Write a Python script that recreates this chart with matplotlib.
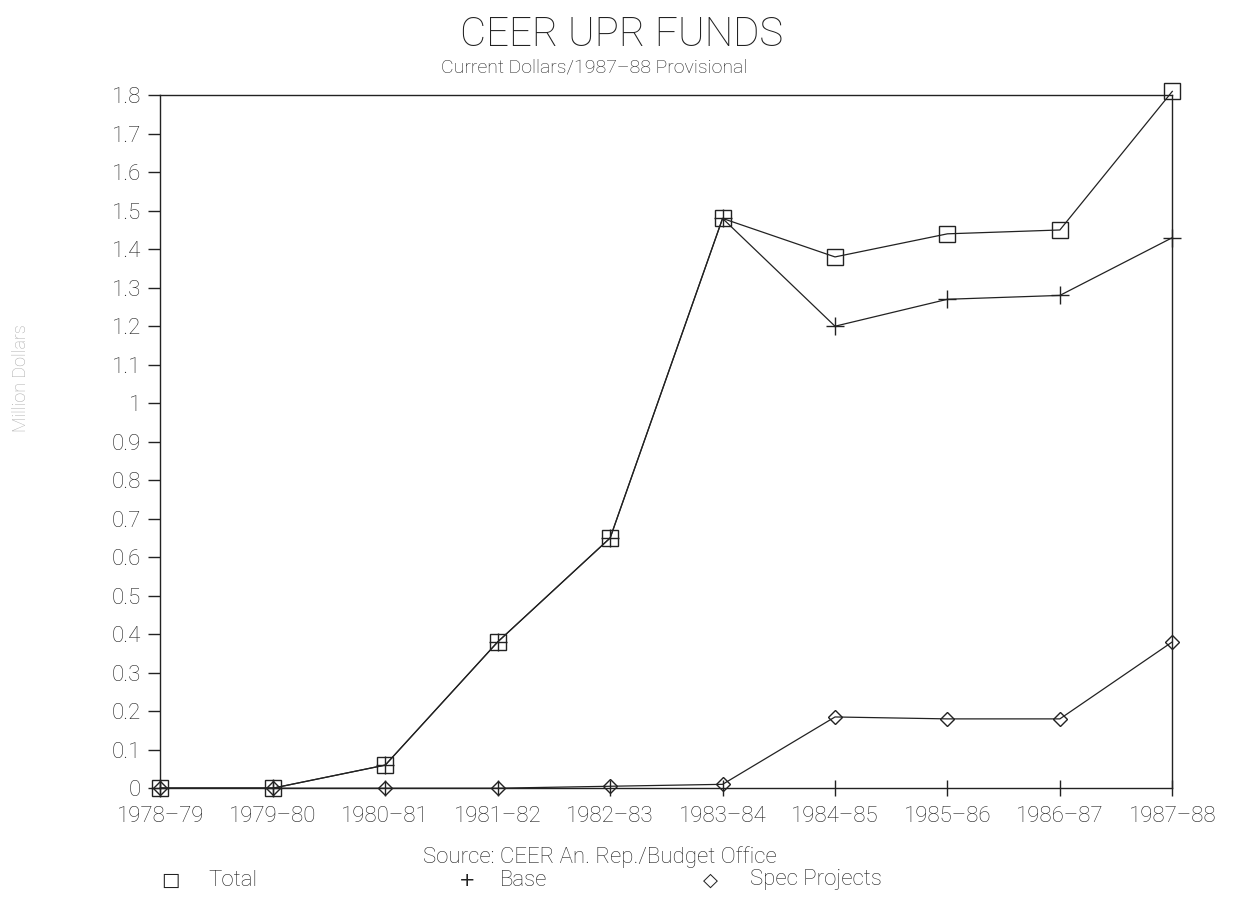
import matplotlib.pyplot as plt

years = ["1978-79", "1979-80", "1980-81", "1981-82", "1982-83",
         "1983-84", "1984-85", "1985-86", "1986-87", "1987-88"]
total = [0, 0, 0.06, 0.38, 0.65, 1.48, 1.38, 1.44, 1.45, 1.81]
base = [0, 0, 0.06, 0.38, 0.65, 1.48, 1.20, 1.27, 1.28, 1.43]
spec = [0, 0, 0, 0, 0.005, 0.01, 0.185, 0.18, 0.18, 0.38]
yticks = [round(0.1 * i, 1) for i in range(19)]
ytick_labels = ["0" if v == 0 else ("1" if v == 1 else f"{v:g}") for v in yticks]

plt.rcParams['font.family'] = ['Roboto', 'DejaVu Sans']
ink = '#222222'

fig = plt.figure(figsize=(12.34, 9.07), dpi=100)
ax = fig.add_axes([0.130, 0.131, 0.820, 0.764])

x = list(range(len(years)))
ax.plot(x, total, color=ink, lw=0.9, marker='s', ms=11, mfc='none',
        mec=ink, mew=1.0, clip_on=False, zorder=3)
ax.plot(x, base, color=ink, lw=0.9, marker='+', ms=13, mew=1.0,
        clip_on=False, zorder=3)
ax.plot(x, spec, color=ink, lw=0.9, marker='D', ms=7, mfc='none',
        mec=ink, mew=1.0, clip_on=False, zorder=3)

ax.set_xlim(0, len(years) - 1)
ax.set_ylim(0, 1.8)
ax.set_xticks(x)
ax.set_xticklabels([y.replace("-", "\u2013") for y in years], fontsize=16,
                   color=ink, fontweight='light')
ax.set_yticks(yticks)
ax.set_yticklabels(ytick_labels, fontsize=16, color=ink, fontweight='light')
ax.tick_params(axis='y', direction='out', length=9, width=1.0, pad=5, colors=ink)
ax.tick_params(axis='x', direction='inout', length=12, width=1.0, pad=7, colors=ink)
for s in ax.spines.values():
    s.set_linewidth(1.0)
    s.set_color(ink)

fig.text(622 / 1234, 1 - 35 / 907, "CEER UPR FUNDS", ha='center', va='center',
         fontsize=29, fontweight='light', color=ink)
fig.text(594 / 1234, 1 - 68 / 907,
         "Current Dollars/1987\u201388 Provisional", ha='center',
         va='center', fontsize=14, fontweight='light', color=ink)
fig.text(0.017, (907 - 432) / 907, "Million Dollars", rotation=90,
         ha='center', va='bottom', fontsize=13, color='#aaaaaa',
         fontweight='light')
fig.text(600 / 1234, 1 - 857 / 907, "Source: CEER An. Rep./Budget Office",
         ha='center', va='center', fontsize=16, fontweight='light', color=ink)

legend_items = [("\u25a1", "Total", 170, 208), ("+", "Base", 467, 500),
                ("\u25c7", "Spec Projects", 710, 750)]
for sym, lab, xs, xl in legend_items:
    fig.text(xs / 1234, 1 - 880 / 907, sym, ha='center', va='center',
             fontsize=14, color=ink, family=['DejaVu Sans'])
    fig.text(xl / 1234, 1 - 880 / 907, lab, ha='left', va='center',
             fontsize=16, fontweight='light', color=ink)

fig.savefig("out.png", dpi=100, facecolor='white')
